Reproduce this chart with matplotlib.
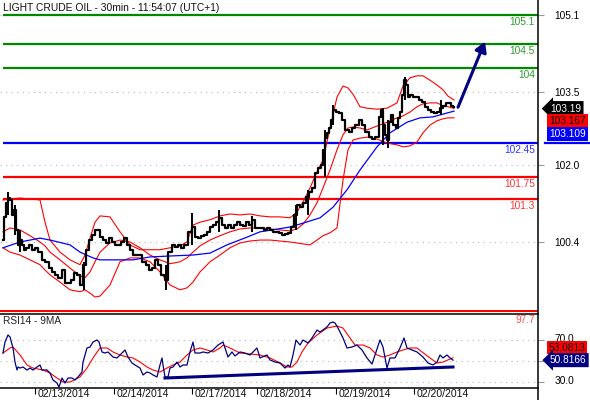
import matplotlib
matplotlib.use('Agg')
import matplotlib.pyplot as plt
import matplotlib.transforms as mtransforms
from matplotlib.lines import Line2D

plt.rcParams['font.family'] = ['Liberation Sans', 'DejaVu Sans']

# ---- price data (30 min bars, x = chart position) ----
t = [3, 5, 7, 9, 11, 13, 15, 17, 19, 21, 23, 25, 27, 30, 33, 36, 40, 43, 47, 50,
     53, 56, 60, 63, 66, 69, 72, 75, 78, 81, 84, 87, 90, 93, 96, 98, 101, 104, 107, 110,
     113, 116, 119, 122, 125, 128, 131, 134, 137, 140, 144, 147, 150, 153, 156, 159, 163, 166, 170, 173,
     176, 179, 182, 186, 190, 193, 196, 199, 202, 205, 208, 211, 214, 217, 220, 223, 226, 229, 232, 235,
     238, 241, 244, 247, 250, 253, 256, 259, 262, 265, 268, 271, 274, 277, 280, 283, 286, 289, 292, 295,
     298, 301, 304, 307, 310, 313, 316, 319, 322, 324, 326, 328, 330, 332, 334, 337, 340, 343, 347, 350,
     353, 357, 360, 363, 367, 370, 373, 377, 380, 382, 384, 386, 388, 390, 392, 394, 397, 399, 401, 403,
     405, 407, 409, 411, 414, 417, 420, 423, 426, 429, 432, 435, 438, 441, 444, 447, 450, 452, 454]
close = [100.44, 100.92, 101.21, 101.31, 101.27, 100.96, 101.06, 100.65, 100.34, 100.44, 100.34, 100.24, 100.28, 100.34, 100.24, 100.28, 100.19, 100.03, 99.99, 99.86,
         99.78, 99.72, 99.66, 99.82, 99.55, 99.55, 99.61, 99.76, 99.72, 99.51, 99.93, 100.24, 100.44, 100.55, 100.65, 100.65, 100.50, 100.44, 100.38, 100.48,
         100.40, 100.34, 100.34, 100.40, 100.48, 100.34, 100.24, 100.13, 100.13, 100.13, 99.99, 99.93, 99.82, 99.86, 100.03, 99.93, 99.72, 99.61, 100.19, 100.34,
         100.30, 100.34, 100.28, 100.34, 100.61, 100.71, 100.50, 100.48, 100.53, 100.55, 100.61, 100.71, 100.75, 100.81, 100.90, 100.75, 100.69, 100.75, 100.69, 100.75,
         100.81, 100.75, 100.73, 100.81, 100.75, 100.86, 100.69, 100.69, 100.69, 100.65, 100.69, 100.65, 100.61, 100.61, 100.59, 100.55, 100.57, 100.59, 100.71, 100.96,
         101.17, 101.12, 101.21, 101.33, 101.44, 101.52, 101.83, 101.93, 102.00, 102.31, 102.55, 102.66, 102.76, 102.93, 103.13, 103.09, 103.07, 102.93, 102.72, 102.68,
         102.76, 102.82, 102.93, 102.82, 102.68, 102.57, 102.53, 102.57, 102.99, 103.13, 102.82, 102.62, 102.51, 102.88, 103.03, 102.82, 102.76, 102.97, 103.09, 103.44,
         103.75, 103.65, 103.40, 103.44, 103.40, 103.40, 103.34, 103.30, 103.20, 103.13, 103.09, 103.07, 103.09, 103.17, 103.22, 103.28, 103.28, 103.22, 103.19]

wick_x = [8, 15, 20, 84, 166, 192, 219, 252, 296, 308, 325, 333, 383, 388, 405, 441]
wick_hi = [101.44, 101.17, 100.65, 99.99, 99.93, 101.00, 101.06, 100.94, 101.17, 101.48, 102.72, 103.24, 103.17, 102.93, 103.82, 103.34]
wick_lo = [100.96, 100.55, 100.19, 99.41, 99.41, 100.34, 100.61, 100.61, 100.65, 100.96, 101.75, 102.82, 102.41, 102.35, 103.34, 103.03]

# bollinger bands
band_x = [3, 10, 20, 30, 40, 45, 50, 60, 70, 80, 85, 90, 95, 100, 110, 120, 130, 140, 150, 160,
          170, 180, 187, 193, 200, 210, 220, 230, 240, 250, 260, 270, 280, 290, 297, 303, 310, 317, 323, 330,
          337, 343, 348, 353, 360, 367, 377, 387, 397, 403, 410, 417, 423, 430, 437, 443, 448, 454]
upper = [101.27, 101.29, 101.31, 101.29, 101.27, 100.81, 100.44, 100.19, 100.03, 99.93, 100.13, 100.48, 100.81, 100.94, 100.92, 100.61, 100.34, 100.24, 100.24, 100.24,
         100.28, 100.32, 100.40, 100.75, 100.81, 100.86, 100.94, 100.98, 100.96, 100.98, 100.94, 100.92, 100.92, 100.90, 101.02, 101.23, 101.52, 101.85, 102.10, 102.76,
         103.40, 103.63, 103.59, 103.46, 103.20, 103.17, 103.15, 103.17, 103.28, 103.63, 103.80, 103.84, 103.84, 103.75, 103.65, 103.55, 103.42, 103.34]
mid = [100.61, 100.69, 100.65, 100.53, 100.40, 100.32, 100.19, 100.03, 99.86, 99.70, 99.66, 99.78, 99.99, 100.19, 100.38, 100.44, 100.40, 100.28, 100.13, 100.03,
       99.95, 99.99, 100.07, 100.19, 100.32, 100.44, 100.53, 100.61, 100.67, 100.69, 100.69, 100.67, 100.65, 100.63, 100.67, 100.77, 100.96, 101.21, 101.52, 101.89,
       102.31, 102.62, 102.76, 102.78, 102.76, 102.72, 102.80, 102.88, 102.97, 103.01, 103.09, 103.20, 103.26, 103.28, 103.28, 103.22, 103.20, 103.167]
lower = [100.28, 100.19, 100.13, 100.03, 99.93, 99.82, 99.72, 99.57, 99.41, 99.37, 99.41, 99.34, 99.26, 99.28, 99.51, 99.99, 100.07, 100.07, 99.99, 99.78,
         99.51, 99.41, 99.45, 99.57, 99.78, 99.99, 100.13, 100.28, 100.38, 100.42, 100.44, 100.44, 100.42, 100.40, 100.38, 100.36, 100.34, 100.44, 100.53, 100.59,
         100.69, 101.68, 102.31, 102.51, 102.55, 102.57, 102.53, 102.45, 102.41, 102.37, 102.39, 102.47, 102.66, 102.82, 102.91, 102.95, 102.97, 102.97]

ma_x = [3, 20, 40, 50, 70, 80, 93, 100, 133, 150, 170, 193, 210, 227, 247, 260, 290, 303, 320, 333,
        347, 360, 377, 390, 407, 420, 433, 447, 454]
ma = [100.28, 100.40, 100.48, 100.44, 100.34, 100.19, 100.07, 100.03, 100.03, 100.09, 100.11, 100.13, 100.17, 100.34, 100.50, 100.61, 100.71, 100.79, 100.90, 101.12,
      101.48, 101.89, 102.37, 102.66, 102.88, 102.97, 102.99, 103.07, 103.109]

levels = [105.1, 104.5, 104.0, 102.45, 101.75, 101.3]
level_colors = ['#008800', '#008800', '#008800', '#0000ff', '#ff0000', '#ff0000']
level_text_colors = ['#2e9a2e', '#2e9a2e', '#2e9a2e', '#3333ff', '#ff3333', '#ff3333']

arrow_x = [458, 485]
arrow_y = [103.19, 104.55]

price_ticks = [105.1, 103.5, 102.0, 100.4]

# ---- RSI data ----
rsi_x = [3, 5, 8, 10, 13, 15, 17, 18, 20, 23, 27, 30, 33, 37, 40, 42, 47, 50, 53, 57,
         59, 62, 65, 68, 72, 75, 78, 82, 83, 87, 90, 93, 97, 99, 102, 105, 108, 113, 117, 120,
         125, 128, 132, 135, 140, 143, 147, 150, 153, 157, 160, 162, 163, 165, 168, 170, 173, 177, 180, 183,
         187, 190, 193, 195, 200, 203, 208, 213, 218, 223, 225, 228, 232, 235, 240, 245, 250, 257, 260, 267,
         270, 275, 280, 285, 288, 290, 293, 296, 300, 303, 308, 312, 317, 320, 327, 330, 333, 335, 338, 343,
         347, 352, 357, 362, 367, 372, 375, 380, 383, 387, 390, 395, 400, 404, 407, 412, 417, 423, 428, 433,
         437, 440, 443, 447, 450, 453]
rsi = [57.6, 68.1, 74.8, 72.9, 62.4, 49.0, 41.4, 44.3, 43.3, 44.3, 41.4, 43.3, 41.4, 44.3, 46.2, 41.4, 41.4, 38.6, 31.9, 29.0,
       25.2, 33.8, 29.0, 33.8, 33.8, 31.9, 34.8, 39.5, 49.0, 62.4, 63.3, 68.1, 70.0, 68.1, 58.6, 57.6, 58.6, 53.8, 52.9, 55.7,
       60.5, 53.8, 48.1, 46.2, 43.3, 36.7, 39.5, 38.6, 36.7, 34.8, 46.2, 52.9, 46.2, 34.8, 34.8, 43.3, 44.3, 49.0, 44.3, 46.2,
       46.2, 58.6, 68.1, 57.6, 57.6, 58.6, 57.6, 60.5, 65.2, 68.1, 62.4, 53.8, 58.6, 54.8, 58.6, 57.6, 55.7, 62.4, 52.9, 55.7,
       51.0, 49.0, 48.1, 43.3, 46.2, 44.3, 55.7, 70.0, 65.2, 70.0, 67.1, 71.9, 79.5, 77.6, 82.4, 86.2, 87.1, 86.2, 81.4, 71.9,
       62.4, 63.3, 65.2, 60.5, 52.9, 47.1, 55.7, 70.0, 63.3, 43.3, 52.9, 52.9, 62.4, 71.9, 62.4, 60.5, 58.6, 53.8, 48.1, 46.2,
       49.0, 55.7, 52.9, 55.7, 52.9, 50.8166]
rsi_ma_x = [3, 10, 13, 20, 27, 33, 43, 50, 57, 63, 70, 80, 87, 93, 100, 107, 113, 120, 127, 133,
            140, 147, 153, 160, 167, 173, 180, 187, 193, 200, 207, 213, 220, 223, 230, 240, 250, 260, 270, 280,
            287, 292, 297, 302, 308, 317, 327, 337, 343, 350, 355, 363, 370, 377, 383, 390, 397, 403, 410, 417,
            422, 430, 437, 443, 453]
rsi_ma = [57.6, 62.4, 63.3, 55.7, 46.2, 43.3, 41.4, 38.6, 33.8, 30.0, 30.0, 34.8, 43.3, 52.9, 62.4, 62.4, 58.6, 55.7, 53.8, 52.9,
          49.0, 44.3, 41.4, 39.5, 43.3, 46.2, 49.0, 55.7, 60.5, 62.4, 60.5, 58.6, 62.4, 65.2, 62.4, 57.6, 56.7, 55.7, 52.9, 48.1,
          44.3, 44.3, 49.0, 58.6, 67.1, 74.8, 81.4, 83.3, 81.4, 71.9, 65.2, 65.2, 62.4, 55.7, 53.8, 55.7, 58.6, 60.5, 62.4, 62.4,
          58.6, 52.9, 48.1, 49.0, 53.0813]
rsi_trend_x = [165, 453]
rsi_trend = [33.8, 44.3]
rsi_level = 97.7
rsi_ticks = [70, 50, 30]
rsi_tick_labels = ['70.0', '30.0']

dates_x = [35, 114, 192, 257, 336, 414]
dates = ['02/13/2014', '02/14/2014', '02/17/2014', '02/18/2014', '02/19/2014', '02/20/2014']

# ---- layout (pixel helpers) ----
W, H = 590, 400
def fx(px):
    return px / W
def fy(py):
    return 1 - py / H

fig = plt.figure(figsize=(W / 100, H / 100), dpi=100)
ax = fig.add_axes([0, fy(314), fx(538), fy(0) - fy(314)])
rx = fig.add_axes([0, fy(388), fx(538), fy(310) - fy(388)])
rx.set_facecolor('none')

for a in (ax, rx):
    for s in a.spines.values():
        s.set_visible(False)
    a.set_xlim(0, 538)

ax.set_ylim(98.909, 105.41)
rx.set_ylim(24.29, 98.57)

grid_style = dict(color='#b8b8b8', linestyle=(0, (1, 4)), linewidth=0.8)

# main panel
ax.yaxis.tick_right()
ax.set_yticks(price_ticks)
ax.set_yticklabels([f'{v:.1f}' for v in price_ticks])
ax.tick_params(axis='y', length=4, color='#999999', pad=8, labelsize=7.3)
ax.set_xticks([])
ax.grid(axis='y', **grid_style)

for lvl, c, tc in zip(levels, level_colors, level_text_colors):
    ax.hlines(lvl, 3, 538, color=c, lw=1.6, zorder=2)
    tr = mtransforms.offset_copy(ax.transData, fig=fig, y=-1.5, units='points')
    ax.text(535, lvl, f'{lvl:g}', color=tc, fontsize=7.3, ha='right', va='top', transform=tr)
ax.plot([545, 590], [levels[3], levels[3]], color=level_colors[3], lw=1.6, clip_on=False)

ax.plot(band_x, upper, color='#ff0000', lw=0.8, zorder=3)
ax.plot(band_x, mid, color='#ff0000', lw=0.8, zorder=3)
ax.plot(band_x, lower, color='#ff0000', lw=0.8, zorder=3)
ax.plot(ma_x, ma, color='#0000ff', lw=0.9, zorder=3)
ax.vlines(wick_x, wick_lo, wick_hi, color='black', lw=1.4, zorder=4)
ax.plot(t, close, color='black', lw=1.6, drawstyle='steps-mid', zorder=4)

ax.annotate('', xy=(arrow_x[1], arrow_y[1]), xytext=(arrow_x[0], arrow_y[0]),
            arrowprops=dict(arrowstyle='-|>,head_length=0.6,head_width=0.35', color='#000080',
                            lw=2.2, shrinkA=0, shrinkB=0), zorder=5)

ax.text(3, 105.24, 'LIGHT CRUDE OIL - 30min - 11:54:07 (UTC+1)', fontsize=7.4,
        color='#111111', va='center', ha='left')

# price tags on the right
down1 = mtransforms.offset_copy(ax.transData, fig=fig, y=-1, units='points')
ax.text(550, close[-1], f'{close[-1]:.2f}', color='white', fontsize=7.3, va='center', ha='left',
        transform=down1, clip_on=False, bbox=dict(boxstyle='larrow,pad=0.25', fc='black', ec='none'))
tr = mtransforms.offset_copy(ax.transData, fig=fig, y=-10.2, units='points')
ax.text(549, close[-1], f'{mid[-1]:.3f}', color='#000000', fontsize=7.3, va='center', ha='left',
        transform=tr, clip_on=False, bbox=dict(boxstyle='square,pad=0.2', fc='#ff0000', ec='none'))
tr = mtransforms.offset_copy(ax.transData, fig=fig, y=-19.4, units='points')
ax.text(549, close[-1], f'{ma[-1]:.3f}', color='white', fontsize=7.3, va='center', ha='left',
        transform=tr, clip_on=False, bbox=dict(boxstyle='square,pad=0.2', fc='#0000ff', ec='none'))

# RSI panel
rx.yaxis.tick_right()
rx.set_yticks(rsi_ticks)
rx.tick_params(axis='y', length=4, color='#999999', labelright=False)
up2 = mtransforms.offset_copy(rx.transData, fig=fig, y=1.0, units='points')
for v, lab in zip([70, 30], rsi_tick_labels):
    rx.text(555, v, lab, fontsize=7.3, color='black', ha='left', va='center',
            transform=up2, clip_on=False)
rx.grid(axis='y', **grid_style)
rx.set_xticks(dates_x)
rx.tick_params(axis='x', length=4, color='black', width=0.8, labelbottom=False)

rx.axhline(rsi_level, color='#ff0000', lw=1.5)
rx.text(535, 0.872, f'{rsi_level:g}', color='#ff5050', fontsize=7.3, ha='right', va='center',
        transform=rx.get_xaxis_transform())
rx.text(3, 0.86, 'RSI14 - 9MA', color='#222222', fontsize=7.3, ha='left', va='center',
        transform=rx.get_xaxis_transform())
rx.plot(rsi_ma_x, rsi_ma, color='#ff0000', lw=0.8)
rx.plot(rsi_x, rsi, color='#000080', lw=0.9)
rx.plot(rsi_trend_x, rsi_trend, color='#000080', lw=2.2)

tr = mtransforms.offset_copy(rx.transData, fig=fig, y=8.8, units='points')
rx.text(549, rsi[-1], f'{rsi_ma[-1]:.4f}', color='#000000', fontsize=7.3, va='center', ha='left',
        transform=tr, clip_on=False, bbox=dict(boxstyle='square,pad=0.15', fc='#ff0000', ec='none'))
rx.text(550, rsi[-1], f'{rsi[-1]:.4f}', color='white', fontsize=7.3, va='center', ha='left',
        clip_on=False, bbox=dict(boxstyle='larrow,pad=0.2', fc='#000080', ec='none'))

for xd, lab in zip(dates_x, dates):
    rx.text(xd + 3, -0.01, lab, fontsize=7.6, color='#111111', ha='left', va='top',
            transform=rx.get_xaxis_transform())

# frame lines
fig.add_artist(Line2D([fx(538), fx(538)], [0, 1], color='black', lw=1.1, transform=fig.transFigure))
fig.add_artist(Line2D([0, fx(538)], [fy(314), fy(314)], color='black', lw=1.1, transform=fig.transFigure))
fig.add_artist(Line2D([0, fx(538)], [fy(388), fy(388)], color='black', lw=1.1, transform=fig.transFigure))

fig.savefig('out.png', dpi=100)
